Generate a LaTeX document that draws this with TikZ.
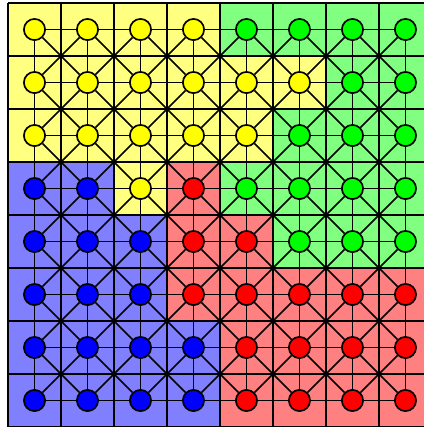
\documentclass[tikz,border=0pt]{standalone}
\definecolor{nodeY}{HTML}{FFFF00}
\definecolor{nodeG}{HTML}{00FF00}
\definecolor{nodeB}{HTML}{0000FF}
\definecolor{nodeR}{HTML}{FF0000}
\definecolor{cellY}{HTML}{FFFF80}
\definecolor{cellG}{HTML}{80FF80}
\definecolor{cellB}{HTML}{8080FF}
\definecolor{cellR}{HTML}{FF8080}
\pgfdeclarelayer{cells}
\pgfdeclarelayer{edges}
\pgfsetlayers{cells,edges,main}
\tikzset{
  vertex/.style={circle, draw, line width=0.9pt, inner sep=0pt, minimum size=0.4cm},
  edge/.style={line width=0.9pt},
  cellgrid/.style={line width=0.7pt}
}
\begin{document}
\begin{tikzpicture}
	\useasboundingbox (-0.151,0) rectangle (7.849,8.057);
	\clip (-0.151,0) rectangle (7.849,8.057);
	
	% vertices, one colour per part
	\foreach \row [count=\j from 0] in {{Y,Y,Y,Y,G,G,G,G},{Y,Y,Y,Y,Y,Y,G,G},{Y,Y,Y,Y,Y,G,G,G},{B,B,Y,R,G,G,G,G},{B,B,B,R,R,G,G,G},{B,B,B,R,R,R,R,R},{B,B,B,B,R,R,R,R},{B,B,B,B,R,R,R,R}}
		\foreach \c [count=\i from 0] in \row {
			\node[vertex, fill=node\c] (n-\i-\j) at (\i+0.5,7.5-\j) {};
			\begin{pgfonlayer}{cells}
				\fill[cell\c] (\i,7-\j) rectangle ++(1,1);
			\end{pgfonlayer}
		}
	\begin{pgfonlayer}{cells}
		\draw[cellgrid] (0,0) grid (8,8);
	\end{pgfonlayer}
	
	% king moves
	\begin{pgfonlayer}{edges}
		\foreach \i in {0,...,6} \foreach \j in {0,...,7} {
			\pgfmathtruncatemacro\ii{\i+1}
			\draw[edge] (n-\i-\j) -- (n-\ii-\j);
			\draw[edge] (n-\j-\i) -- (n-\j-\ii);
		}
		\foreach \i in {0,...,6} \foreach \j in {0,...,6} {
			\pgfmathtruncatemacro\ii{\i+1}
			\pgfmathtruncatemacro\jj{\j+1}
			\draw[edge] (n-\i-\j) -- (n-\ii-\jj);
			\draw[edge] (n-\ii-\j) -- (n-\i-\jj);
		}
	\end{pgfonlayer}
\end{tikzpicture}
\end{document}
